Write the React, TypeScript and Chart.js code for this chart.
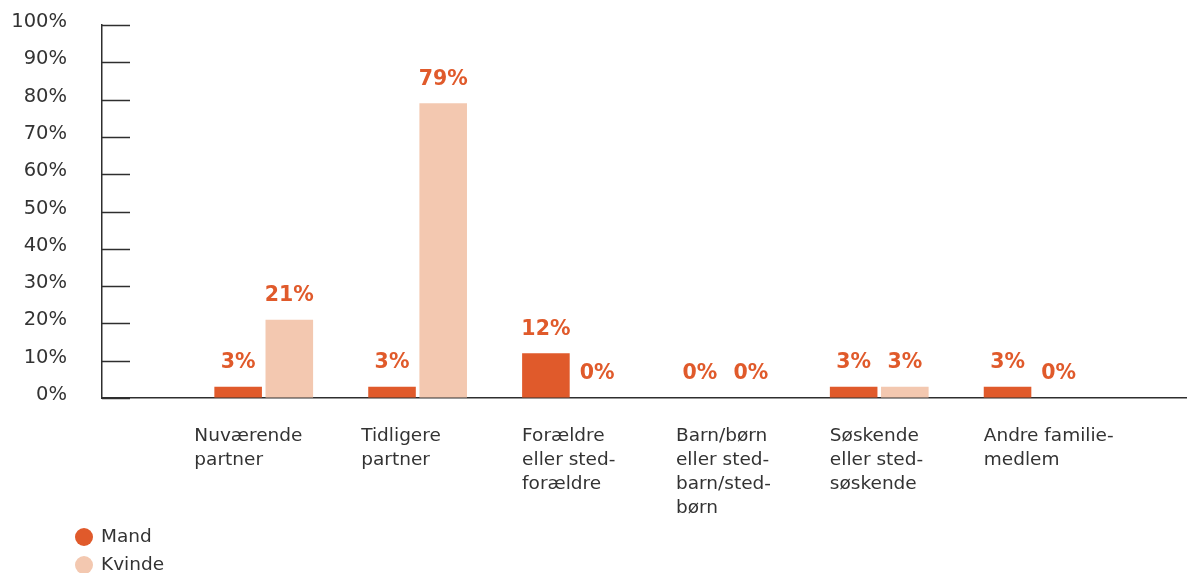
import React, { useEffect, useRef } from "react";
import { Chart, registerables } from "chart.js";

Chart.register(...registerables);

// ---- data ----
const categories: string[][] = [
  ["Nuværende", "partner"],
  ["Tidligere", "partner"],
  ["Forældre", "eller sted-", "forældre"],
  ["Barn/børn", "eller sted-", "barn/sted-", "børn"],
  ["Søskende", "eller sted-", "søskende"],
  ["Andre familie-", "medlem"],
];
const seriesNames = ["Mand", "Kvinde"];
const mandValues = [3, 3, 12, 0, 3, 3];
const kvindeValues = [21, 79, 0, 0, 3, 0];
const yTickValues = [0, 10, 20, 30, 40, 50, 60, 70, 80, 90, 100];

// ---- styles ----
const FONT = '"DejaVu Sans", "Open Sans", sans-serif';
const TEXT = "#333333";
const AXIS = "#2e2e2e";
const ORANGE = "#e05a2b";
const PEACH = "#f3c8b0";
const labelShift = [-20, -7, 0, 0, 0, 0];

const overlayPlugin = {
  id: "overlay",
  afterDatasetsDraw(chart: any) {
    const ctx = chart.ctx as CanvasRenderingContext2D;
    const area = chart.chartArea;
    const y = chart.scales.y;
    ctx.save();
    // inward tick marks
    ctx.strokeStyle = AXIS;
    ctx.lineWidth = 1.5;
    y.ticks.forEach((t: any) => {
      const py = Math.round(y.getPixelForValue(t.value)) + 0.5;
      ctx.beginPath();
      ctx.moveTo(area.left, py);
      ctx.lineTo(area.left + 28, py);
      ctx.stroke();
    });
    // value labels
    ctx.font = `bold 20.5px ${FONT}`;
    ctx.fillStyle = ORANGE;
    ctx.textAlign = "center";
    ctx.textBaseline = "middle";
    chart.data.datasets.forEach((ds: any, di: number) => {
      const meta = chart.getDatasetMeta(di);
      meta.data.forEach((bar: any, i: number) => {
        ctx.fillText(`${ds.data[i].y}%`, bar.x, bar.y - 24);
      });
    });
    // category labels
    const meta0 = chart.getDatasetMeta(0);
    ctx.font = `18.5px ${FONT}`;
    ctx.fillStyle = TEXT;
    ctx.textAlign = "left";
    categories.forEach((lines, i) => {
      const bar: any = meta0.data[i];
      const left = bar.x - bar.width / 2 + labelShift[i];
      lines.forEach((line, li) => {
        ctx.fillText(line, left, area.bottom + 38 + li * 24);
      });
    });
    // legend
    const colors = [ORANGE, PEACH];
    seriesNames.forEach((name, i) => {
      const cy = 537 + i * 28;
      ctx.beginPath();
      ctx.fillStyle = colors[i];
      ctx.arc(84, cy, 9, 0, Math.PI * 2);
      ctx.fill();
      ctx.fillStyle = TEXT;
      ctx.font = `18.5px ${FONT}`;
      ctx.textAlign = "left";
      ctx.fillText(name, 101, cy);
    });
    ctx.restore();
  },
};

export default function App() {
  const canvasRef = useRef<HTMLCanvasElement | null>(null);

  useEffect(() => {
    const canvas = canvasRef.current;
    if (!canvas) return;
    const chart = new Chart(canvas, {
      type: "bar",
      data: {
        datasets: [
          {
            label: seriesNames[0],
            data: mandValues.map((v, i) => ({ x: i, y: v })),
            backgroundColor: ORANGE,
            categoryPercentage: 0.665,
            barPercentage: 0.93,
          },
          {
            label: seriesNames[1],
            data: kvindeValues.map((v, i) => ({ x: i, y: v })),
            backgroundColor: PEACH,
            categoryPercentage: 0.665,
            barPercentage: 0.93,
          },
        ],
      },
      options: {
        responsive: false,
        animation: false,
        devicePixelRatio: 1,
        layout: { padding: { top: 25, right: 0, left: 0, bottom: 0 } },
        plugins: {
          legend: { display: false },
          tooltip: { enabled: false },
        },
        scales: {
          x: {
            type: "linear",
            offset: false,
            bounds: "data",
            min: -1.051,
            max: 6,
            afterBuildTicks: (scale: any) => {
              scale.ticks = categories.map((_, i) => ({ value: i }));
            },
            grid: { display: false, drawTicks: false },
            border: { display: true, color: AXIS, width: 1.5 },
            ticks: { display: false },
            afterFit: (scale: any) => {
              scale.height = 175;
            },
          },
          y: {
            min: 0,
            max: 100,
            afterBuildTicks: (scale: any) => {
              scale.ticks = yTickValues.map((v) => ({ value: v }));
            },
            grid: {
              drawOnChartArea: false,
              drawTicks: true,
              tickLength: 35,
              tickColor: "rgba(0,0,0,0)",
            },
            border: { display: true, color: AXIS, width: 1.5 },
            ticks: {
              padding: 0,
              labelOffset: -3,
              color: TEXT,
              font: { family: FONT, size: 19.5 },
              callback: (v: any) => `${v}%`,
            },
            afterFit: (scale: any) => {
              scale.width = 102;
            },
          },
        },
      } as any,
      plugins: [overlayPlugin],
    });
    return () => chart.destroy();
  }, []);

  return (
    <div style={{ position: "absolute", left: 0, top: 0, width: 1187, height: 573, background: "#fff" }}>
      <canvas ref={canvasRef} width={1187} height={573} />
    </div>
  );
}
